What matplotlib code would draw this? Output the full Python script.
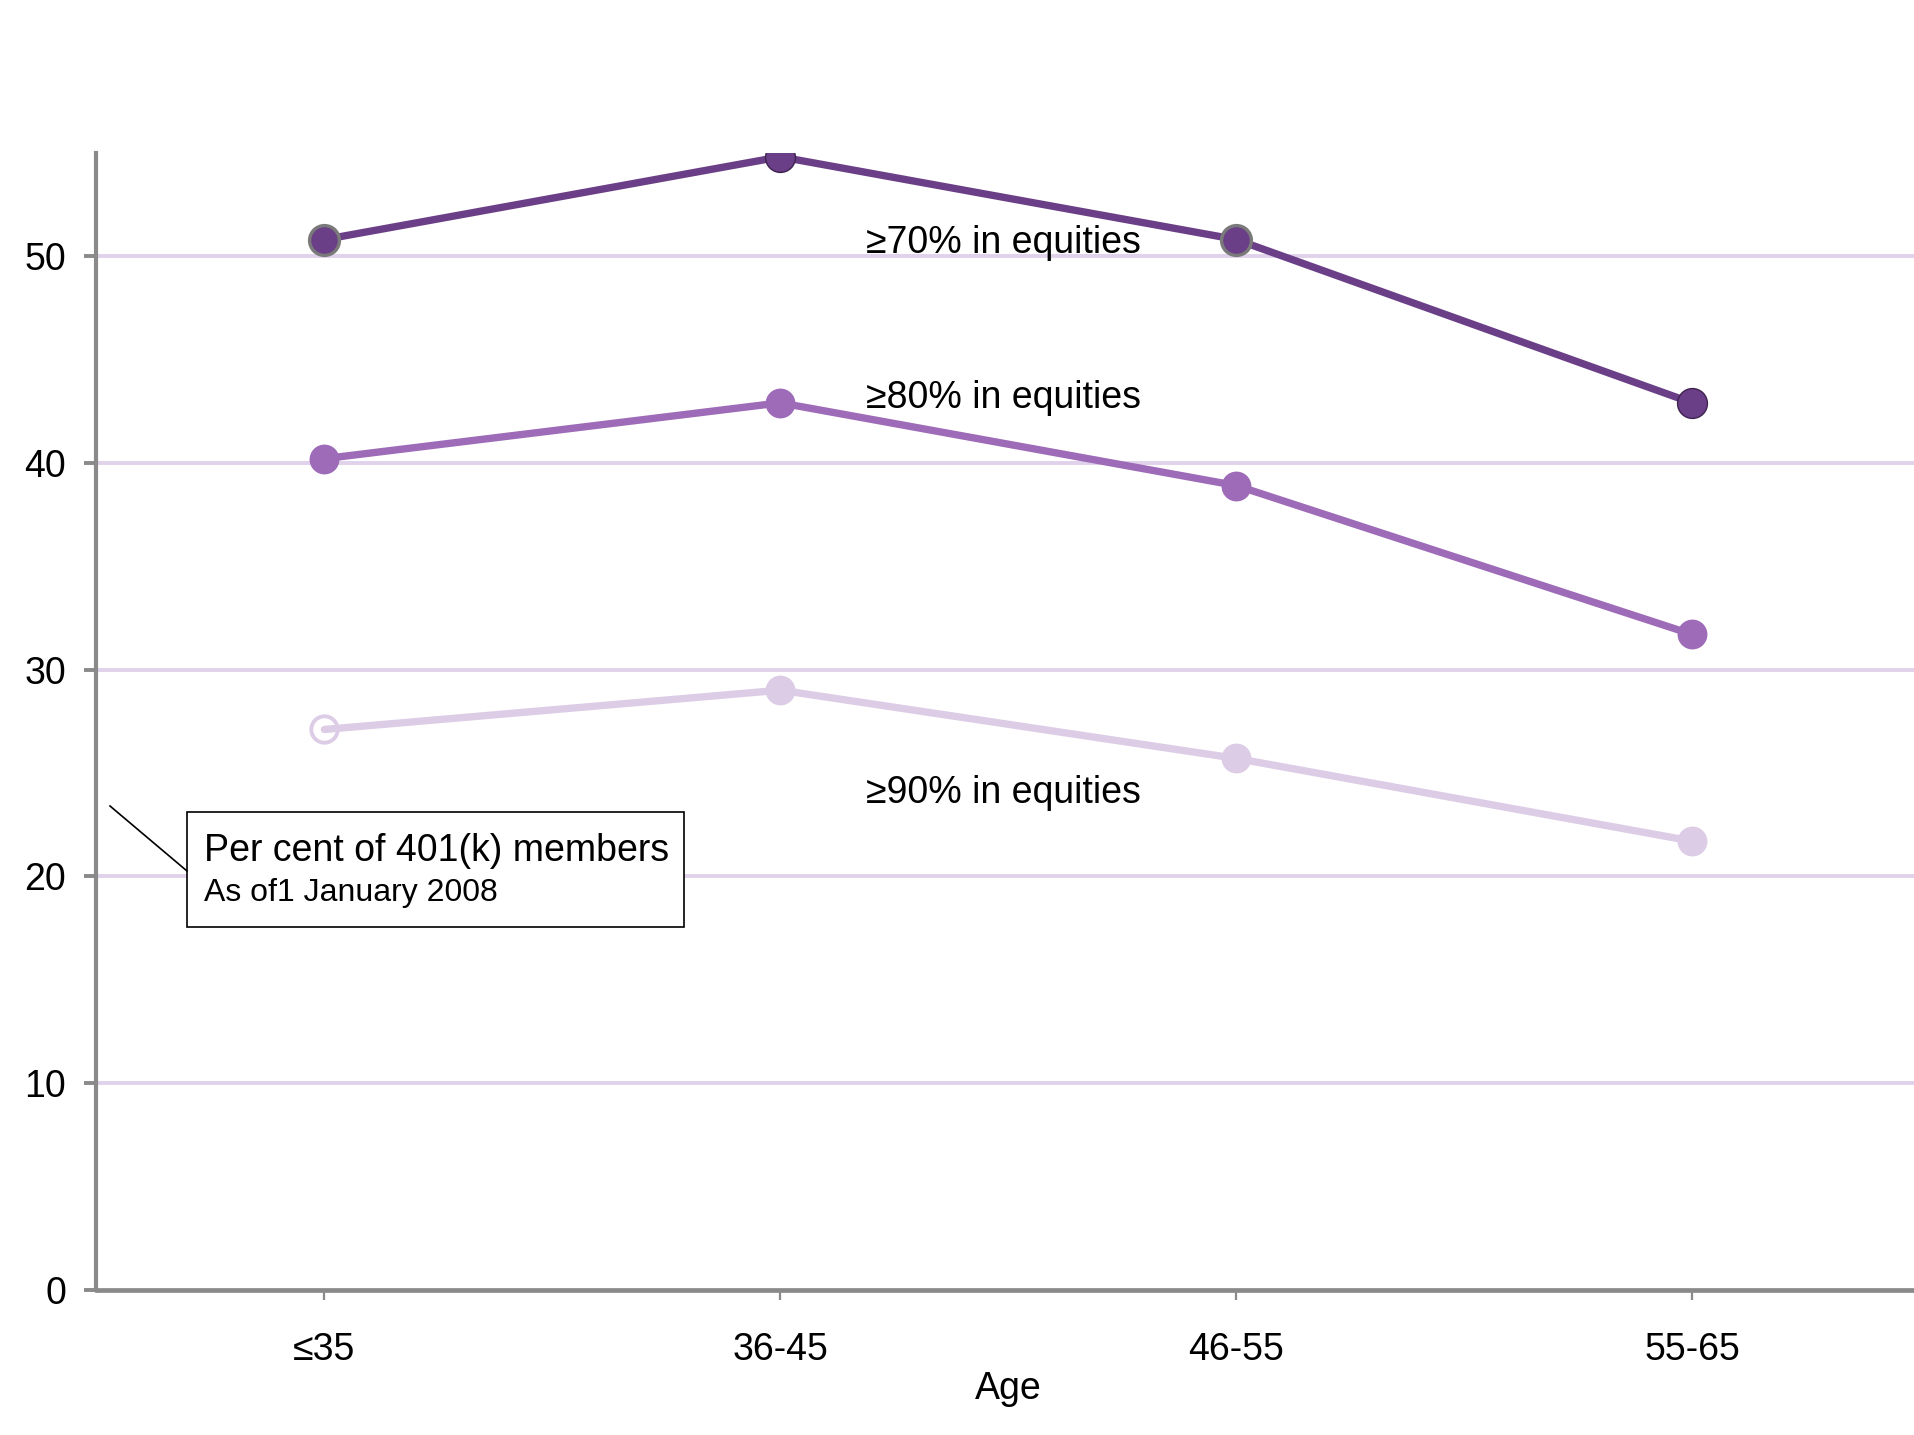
import matplotlib
matplotlib.use("Agg")
import matplotlib.pyplot as plt
from matplotlib.patches import Rectangle
from matplotlib.lines import Line2D

plt.rcParams['font.family'] = ['Liberation Sans', 'DejaVu Sans']

# Data: share of 401(k) members (%) by age band and equity allocation
age_groups = ["≤35", "36-45", "46-55", "55-65"]
series_labels = ["≥70% in equities", "≥80% in equities", "≥90% in equities"]
eq70 = [50.8, 54.8, 50.8, 42.9]
eq80 = [40.2, 42.9, 38.9, 31.7]
eq90 = [27.1, 29.0, 25.7, 21.7]
y_ticks = [0, 10, 20, 30, 40, 50]

# Styles
dark = "#6B3F87"
mid = "#9D6BB7"
light = "#DDCCE6"
grid_col = "#E0D2EA"
axis_grey = "#8A8A8A"
fs = 27

W, H = 1915, 1435
fig = plt.figure(figsize=(W / 100, H / 100), dpi=100)
ax = fig.add_axes([96.5 / W, 1 - 1289.7 / H, (1920 - 96.5) / W, (1289.7 - 152.7) / H])

x = list(range(len(age_groups)))

for yv in y_ticks[1:]:
    ax.axhline(yv, color=grid_col, lw=2.8, zorder=1)

series = [
    (eq70, dark, [("fill", "#7A7A7A", 2.4), ("fill", "#3E2350", 1.0),
                  ("fill", "#7A7A7A", 2.4), ("fill", "#3E2350", 1.0)]),
    (eq80, mid, [("fill", mid, 0)] * 4),
    (eq90, light, [("hollow", light, 2.8), ("fill", light, 0), ("fill", light, 0), ("fill", light, 0)]),
]

for vals, col, marks in series:
    ax.plot(x, vals, color=col, lw=5.3, solid_capstyle="round", zorder=3)
    for xi, yi, (kind, ec, ew) in zip(x, vals, marks):
        if kind == "hollow":
            ax.plot([xi], [yi], marker="o", ms=19, mfc="white", mec=ec, mew=ew, zorder=4)
            ax.plot([xi, xi + 0.02], [yi, yi + (vals[1] - vals[0]) * 0.02], color=col, lw=5.3,
                    solid_capstyle="round", zorder=5)
        else:
            ax.plot([xi], [yi], marker="o", ms=21.5, mfc=col, mec=ec, mew=ew, zorder=4)

# Series labels
label_y = [50.15, 42.64, 23.52]
for lab, ly in zip(series_labels, label_y):
    ax.text(1.187, ly, lab, fontsize=fs, color="black", ha="left", va="baseline", zorder=6)

ax.set_xlim(-0.5, 3.5)
ax.set_ylim(0, 55)
ax.set_xticks(x)
ax.set_xticklabels(age_groups)
ax.set_yticks(y_ticks)
ax.set_yticklabels([str(v) for v in y_ticks])

for s in ["top", "right"]:
    ax.spines[s].set_visible(False)
ax.spines["left"].set_color(axis_grey)
ax.spines["left"].set_linewidth(3.0)
ax.spines["bottom"].set_color(axis_grey)
ax.spines["bottom"].set_linewidth(3.4)
ax.spines["left"].set_bounds(0, 55)

ax.tick_params(axis="x", direction="out", length=7.5, width=1.6, color=axis_grey,
               labelsize=fs, pad=23)
ax.tick_params(axis="y", direction="out", length=9, width=2.8, color=axis_grey,
               labelsize=fs, pad=13)
ax.set_xlabel("Age", fontsize=fs, labelpad=2)

# Caption box with leader line
fig.add_artist(Rectangle((187 / W, 1 - 927 / H), 497 / W, 115 / H, transform=fig.transFigure,
                         fill=True, facecolor="white", edgecolor="black", lw=1.2, zorder=10))
fig.add_artist(Line2D([110 / W, 187 / W], [1 - 806 / H, 1 - 871 / H], transform=fig.transFigure,
                      color="black", lw=1.2, zorder=10))
fig.text(204 / W, 1 - 851 / H, "Per cent of 401(k) members", fontsize=fs, ha="left",
         va="center", zorder=11)
fig.text(204 / W, 1 - 893 / H, "As of1 January 2008", fontsize=23, ha="left",
         va="center", zorder=11)

fig.savefig("out.png", dpi=100, facecolor="white")
